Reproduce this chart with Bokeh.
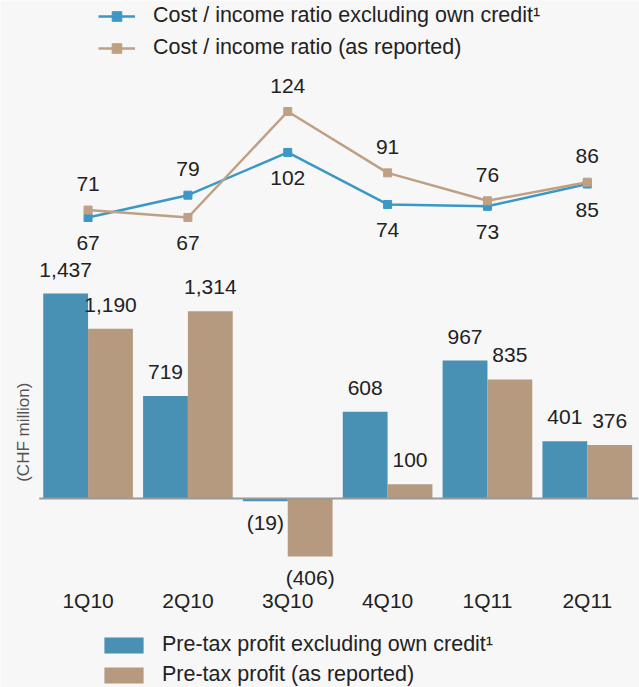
import math
import numpy as np
from bokeh.plotting import figure
from bokeh.models import Range1d, ColumnDataSource, Legend, LegendItem, Label
from bokeh.core.properties import value
from bokeh.embed import file_html
from bokeh.resources import INLINE

# ---- data ----
quarters = ["1Q10", "2Q10", "3Q10", "4Q10", "1Q11", "2Q11"]
ratio_excl = [67, 79, 102, 74, 73, 85]
ratio_rep = [71, 67, 124, 91, 76, 86]
profit_excl = [1437, 719, -19, 608, 967, 401]
profit_rep = [1190, 1314, -406, 100, 835, 376]

# ---- styles ----
FONT = "Liberation Sans"
BG = "#f7f7f7"
BAR_BLUE = "#4890b4"
BAR_TAN = "#b59a7f"
LINE_BLUE = "#3b98c6"
LINE_TAN = "#bfa084"
TXT = "#222222"

W, H = 639, 687


def fmt(v):
    return f"{v:,}" if v >= 0 else f"({-v:,})"


p = figure(width=W, height=H, output_backend="svg", toolbar_location=None,
           x_range=Range1d(-0.877, 5.523), y_range=Range1d(-1325, 3492),
           x_axis_location=None, y_axis_location=None,
           min_border_left=0, min_border_right=0, min_border_top=0, min_border_bottom=0,
           background_fill_color=BG, border_fill_color=BG, outline_line_color=None)
p.grid.visible = False
p.extra_y_ranges = {"ratio": Range1d(-185.74, 183.69)}

x = np.arange(len(quarters))
bw = 0.449

bars = ColumnDataSource(dict(
    xb=x - bw / 2, xt=x + bw / 2,
    pe=profit_excl, pr=profit_rep,
    le=[fmt(v) for v in profit_excl], lr=[fmt(v) for v in profit_rep],
    oe=[-24 if v >= 0 else 21 for v in profit_excl],
    orr=[-24 if v >= 0 else 21 for v in profit_rep],
))

r_be = p.vbar(x="xb", top="pe", bottom=0, width=bw, fill_color=BAR_BLUE, line_color=None, source=bars)
r_bt = p.vbar(x="xt", top="pr", bottom=0, width=bw, fill_color=BAR_TAN, line_color=None, source=bars)

# baseline
p.segment(x0=[-bw - 0.04], y0=[0], x1=[5.51], y1=[0], line_color="#9a9a9a", line_width=2)

p.text(x="xb", y="pe", text="le", source=bars,
       text_font=value(FONT), text_font_size="21px", text_color=TXT,
       text_align="center", text_baseline="middle", y_offset="oe")
p.text(x="xt", y="pr", text="lr", source=bars,
       text_font=value(FONT), text_font_size="21px", text_color=TXT,
       text_align="center", text_baseline="middle", y_offset="orr")

# ratio lines
lines = ColumnDataSource(dict(
    x=x, re=ratio_excl, rr=ratio_rep,
    le=[str(v) for v in ratio_excl], lr=[str(v) for v in ratio_rep],
    oe=[-26 if a > b else 26 for a, b in zip(ratio_excl, ratio_rep)],
    orr=[-26 if b >= a else 26 for a, b in zip(ratio_excl, ratio_rep)],
))

l1 = p.line("x", "re", source=lines, line_color=LINE_BLUE, line_width=2.5, y_range_name="ratio")
m1 = p.scatter("x", "re", source=lines, marker="square", size=8, fill_color=LINE_BLUE,
               line_color=LINE_BLUE, y_range_name="ratio")
l2 = p.line("x", "rr", source=lines, line_color=LINE_TAN, line_width=2.5, y_range_name="ratio")
m2 = p.scatter("x", "rr", source=lines, marker="square", size=8, fill_color=LINE_TAN,
               line_color=LINE_TAN, y_range_name="ratio")

p.text(x="x", y="re", text="le", source=lines, y_range_name="ratio",
       text_font=value(FONT), text_font_size="21px", text_color=TXT,
       text_align="center", text_baseline="middle", y_offset="oe")
p.text(x="x", y="rr", text="lr", source=lines, y_range_name="ratio",
       text_font=value(FONT), text_font_size="21px", text_color=TXT,
       text_align="center", text_baseline="middle", y_offset="orr")

# category labels
p.text(x=x, y=[-715] * len(quarters), text=quarters,
       text_font=value(FONT), text_font_size="21px", text_color=TXT,
       text_align="center", text_baseline="middle")

# y-axis title
p.add_layout(Label(x=-0.642, y=465, text="(CHF million)", angle=math.pi / 2,
                   text_align="center", text_baseline="middle",
                   text_font=FONT, text_font_size="17px", text_color="#555555"))

top_legend = Legend(items=[
    LegendItem(label="Cost / income ratio excluding own credit\u00b9", renderers=[l1, m1]),
    LegendItem(label="Cost / income ratio (as reported)", renderers=[l2, m2]),
], location=(98, 627))
bottom_legend = Legend(items=[
    LegendItem(label="Pre-tax profit excluding own credit\u00b9", renderers=[r_be]),
    LegendItem(label="Pre-tax profit (as reported)", renderers=[r_bt]),
], location=(99, 0))

for lg, gw, gh, st, sp in ((top_legend, 37, 24, 18, 7), (bottom_legend, 49, 20, 14, 5)):
    lg.glyph_width = gw
    lg.glyph_height = gh
    lg.label_standoff = st
    lg.spacing = sp
    lg.padding = 0
    lg.margin = 0
    lg.border_line_color = None
    lg.background_fill_alpha = 0
    lg.label_text_font = FONT
    lg.label_text_font_size = "21.5px"
    lg.label_text_color = TXT
    p.add_layout(lg)

open("out.html", "w").write(file_html(p, INLINE))
